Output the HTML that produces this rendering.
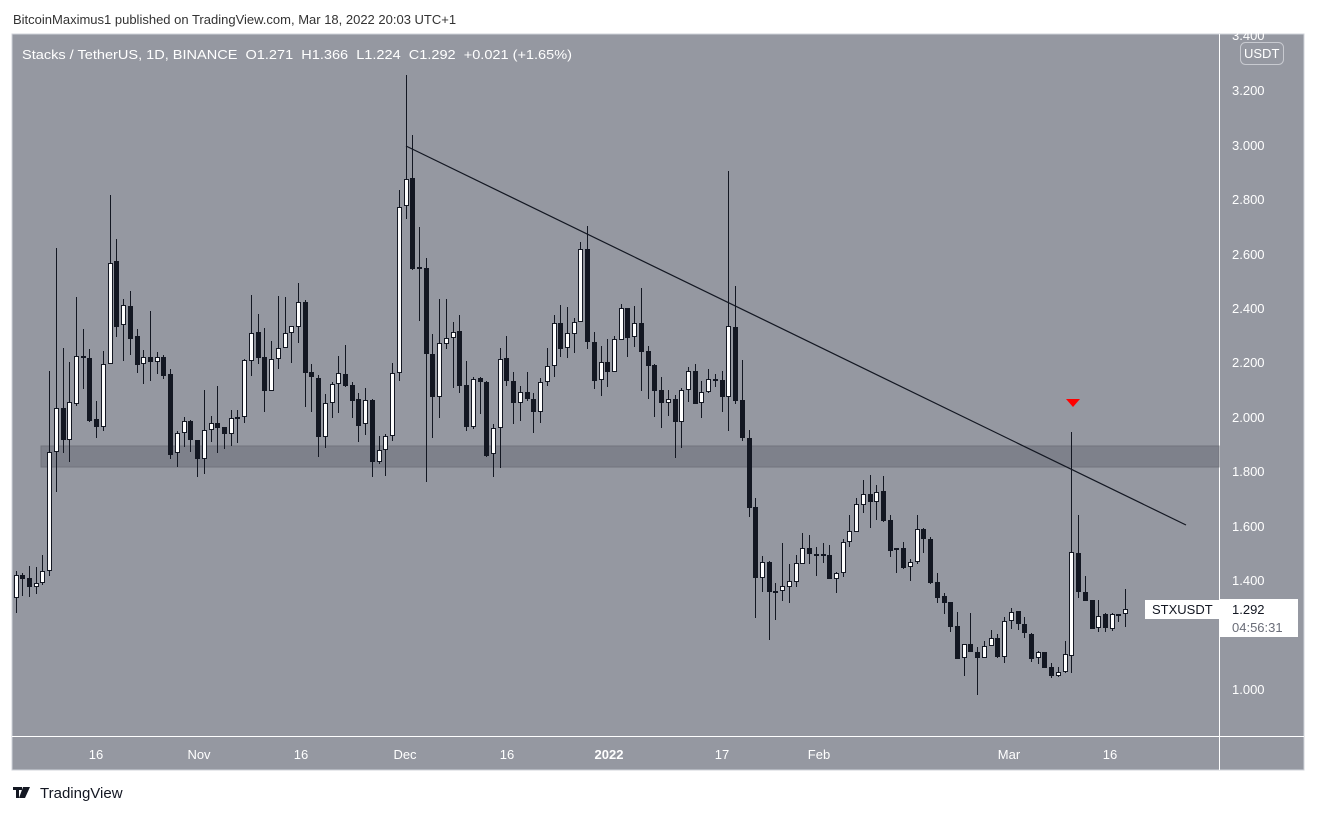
<!DOCTYPE html>
<html><head><meta charset="utf-8">
<style>
html,body{margin:0;padding:0;background:#fff;width:1317px;height:815px;overflow:hidden;}
svg{display:block;font-family:"Liberation Sans",sans-serif;}
</style></head><body>
<svg id="s" width="1317" height="815" xmlns="http://www.w3.org/2000/svg">
<text x="13" y="24" font-size="13" fill="#333">BitcoinMaximus1 published on TradingView.com, Mar 18, 2022 20:03 UTC+1</text>
<rect x="12" y="34" width="1292" height="736" fill="#9598a1" stroke="#d0d3da" stroke-width="1"/>
<line x1="1219.5" y1="34" x2="1219.5" y2="770" stroke="#fff" stroke-width="1"/>
<line x1="12" y1="736.5" x2="1304" y2="736.5" stroke="#fff" stroke-width="1"/>
<rect x="41" y="446" width="1178" height="21" fill="#7e818b" stroke="#71747d" stroke-width="1"/>
<g id="c"></g>
<line x1="406" y1="146" x2="1186" y2="525" stroke="#131722" stroke-width="1.2"/>
<polygon points="1066,399 1080,399 1073,407" fill="#f00"/>
<text x="22" y="59" font-size="13" fill="#fff" textLength="550" lengthAdjust="spacingAndGlyphs">Stacks / TetherUS, 1D, BINANCE&#160; O1.271&#160; H1.366&#160; L1.224&#160; C1.292&#160; +0.021 (+1.65%)</text>
<g font-size="13" fill="#fff">
<text x="1232" y="40">3.400</text>
<text x="1232" y="95">3.200</text>
<text x="1232" y="150">3.000</text>
<text x="1232" y="204">2.800</text>
<text x="1232" y="259">2.600</text>
<text x="1232" y="313">2.400</text>
<text x="1232" y="367">2.200</text>
<text x="1232" y="422">2.000</text>
<text x="1232" y="476">1.800</text>
<text x="1232" y="531">1.600</text>
<text x="1232" y="585">1.400</text>
<text x="1232" y="694">1.000</text>
</g>
<rect x="1240.5" y="42.5" width="43" height="22" rx="5" fill="#9598a1" stroke="#c8cad0"/>
<text x="1244" y="58" font-size="13" fill="#fff">USDT</text>
<rect x="1145" y="600" width="74" height="19" fill="#fff"/>
<text x="1152" y="614" font-size="13" fill="#131722">STXUSDT</text>
<rect x="1219" y="599" width="79" height="38" fill="#fff"/>
<text x="1232" y="614" font-size="13" fill="#131722">1.292</text>
<text x="1232" y="632" font-size="13" fill="#6a6d78">04:56:31</text>
<g font-size="13" fill="#fff" text-anchor="middle">
<text x="96" y="759">16</text><text x="199" y="759">Nov</text><text x="301" y="759">16</text>
<text x="405" y="759">Dec</text><text x="507" y="759">16</text>
<text x="609" y="759" font-weight="bold">2022</text><text x="722" y="759">17</text>
<text x="819" y="759">Feb</text><text x="1009" y="759">Mar</text><text x="1110" y="759">16</text>
</g>
<g fill="#131722"><rect x="13" y="787" width="9" height="3"/><rect x="16" y="787" width="3" height="11"/><polygon points="23,787 30,787 25,798 19,798"/></g>
<text x="40" y="798" font-size="15" fill="#131722">TradingView</text>
</svg>
<script>
var d=`w 575 598 571 613|d 575 579 573 596|d 578 587 566 597|w 583 587 567 594|w 571 583 555 585|w 452 571 371 576|w 408 452 248 492|d 408 440 348 453|w 402 440 362 462|w 356 404 297 406|d 356 358 329 389|d 358 421 349 422|d 419 427 401 438|w 364 427 351 431|w 263 364 195 364|d 261 327 239 337|w 305 325 299 361|d 306 339 291 355|d 336 365 329 373|w 357 364 350 384|d 357 362 311 381|w 357 362 352 374|d 357 376 355 379|d 374 455 369 459|w 433 453 431 467|w 421 433 417 447|d 421 440 420 452|d 440 459 440 477|w 430 459 390 474|w 423 430 416 442|d 423 428 386 453|d 427 434 427 449|w 418 434 410 446|w 417 419 410 443|w 360 417 359 423|w 333 361 295 376|d 332 358 314 364|d 357 391 328 412|w 359 391 341 391|w 348 359 296 369|w 333 348 297 348|w 326 333 326 363|w 302 327 283 343|d 302 373 300 407|d 372 377 364 412|d 378 437 375 457|w 403 437 394 448|w 384 403 382 418|w 373 384 356 413|d 374 386 345 387|d 385 401 382 418|d 399 426 393 442|w 400 424 388 435|d 400 462 399 477|w 450 462 436 464|w 436 450 434 476|w 373 436 363 441|w 207 373 190 381|w 179 206 75 219|d 178 269 135 270|d 267 269 227 321|d 268 354 258 482|d 354 397 334 438|w 343 397 299 418|w 338 344 299 349|w 332 338 322 388|d 331 386 315 393|d 385 427 361 431|w 379 427 377 429|d 378 382 377 414|d 382 456 381 457|w 428 454 424 477|w 359 428 348 468|d 358 381 336 386|d 381 403 372 424|w 392 403 386 421|d 392 399 372 401|d 399 412 393 433|w 382 412 378 423|w 366 382 348 386|w 323 366 315 377|d 323 349 305 357|w 333 348 307 358|w 322 334 318 353|w 249 322 242 322|d 249 342 226 349|d 342 381 332 389|w 362 380 346 396|d 362 372 339 387|w 339 372 336 372|w 308 340 304 340|d 308 338 308 357|w 323 337 306 347|d 323 352 288 391|d 351 366 346 399|d 365 391 364 417|d 390 403 377 428|w 399 403 390 416|d 399 422 395 458|w 390 422 388 448|w 371 390 367 402|d 371 404 364 404|w 392 403 381 418|w 379 392 369 393|d 379 381 374 387|d 380 397 371 412|w 326 397 171 431|d 327 401 286 404|d 400 438 360 441|d 438 508 430 517|d 507 578 498 618|w 562 578 556 592|d 562 592 561 640|d 591 592 583 620|w 586 591 543 601|w 581 587 564 603|w 563 582 555 587|w 548 564 533 564|d 548 554 535 564|d 554 555 547 576|d 554 556 543 563|d 555 579 545 579|w 573 579 572 593|w 542 573 539 577|w 531 542 515 547|w 504 532 498 532|w 494 505 480 513|d 494 502 475 528|w 492 502 485 520|d 491 521 476 522|d 520 551 515 557|d 548 549 548 573|d 548 568 542 569|w 562 567 559 581|w 529 562 515 564|d 529 539 528 553|d 539 583 537 584|d 582 598 573 603|d 596 603 593 614|d 602 627 602 632|d 626 659 612 659|w 644 658 644 676|d 644 652 613 652|d 652 658 647 695|w 646 658 641 658|w 638 646 630 646|d 638 657 634 658|w 621 657 617 663|w 612 621 608 629|d 611 624 611 630|d 624 633 617 638|d 634 659 633 662|w 652 658 651 664|d 652 668 652 668|d 667 676 663 678|w 672 676 667 677|w 654 672 641 673|w 552 656 432 673|d 553 592 515 598|d 592 601 576 601|d 600 629 600 629|w 616 628 600 632|d 614 628 613 632|w 614 629 613 631|d 614 615 614 622|w 609 614 589 627`.split('|');
var h='';
d.forEach(function(s,i){var p=s.split(' ');var x=15.5+6.725*i;var t=+p[1],b=+p[2],wt=+p[3],wb=+p[4];
var xc=Math.round(x)+0.5;
h+='<line x1="'+xc+'" y1="'+wt+'" x2="'+xc+'" y2="'+wb+'" stroke="#131722" stroke-width="1"/>';
if(b-t<2)b=t+2;
if(p[0]=='w')h+='<rect x="'+(xc-2)+'" y="'+(t+0.5)+'" width="4" height="'+(b-t-1)+'" fill="#fff" stroke="#131722" stroke-width="1"/>';
else h+='<rect x="'+(xc-2.5)+'" y="'+t+'" width="5" height="'+(b-t)+'" fill="#131722"/>';
});
document.getElementById('c').innerHTML=h;
</script>
</body></html>
